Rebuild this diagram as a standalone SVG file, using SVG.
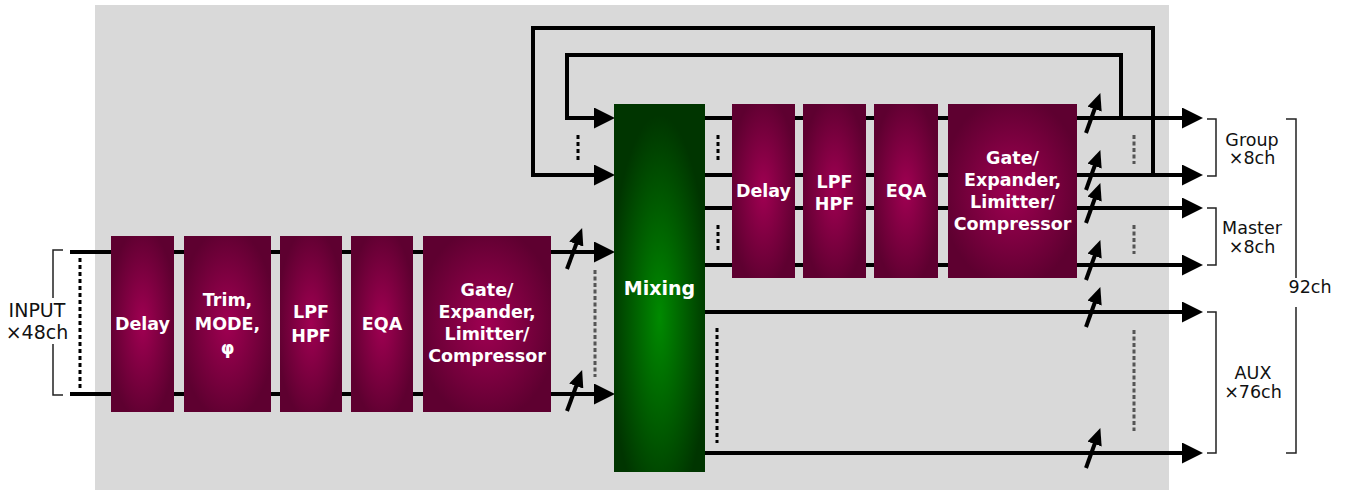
<svg xmlns="http://www.w3.org/2000/svg" width="1346" height="492" viewBox="0 0 1346 492">
<defs>
<radialGradient id="gm" cx="50%" cy="50%" r="55%">
<stop offset="0" stop-color="#a00052"/>
<stop offset="1" stop-color="#5e0030"/>
</radialGradient>
<radialGradient id="gg" cx="50%" cy="58%" r="55%">
<stop offset="0" stop-color="#008a00"/>
<stop offset="1" stop-color="#003500"/>
</radialGradient>
<marker id="ah" markerUnits="userSpaceOnUse" markerWidth="21" markerHeight="21" refX="10" refY="10.5" orient="auto">
<path d="M0,0 L21,10.5 L0,21 z" fill="#000"/>
</marker>
<marker id="sa" markerUnits="userSpaceOnUse" markerWidth="17" markerHeight="15" refX="8" refY="7.5" orient="auto">
<path d="M0,0 L17,7.5 L0,15 z" fill="#000"/>
</marker>
<style>
.ln{stroke:#000;stroke-width:4;fill:none}
.va{stroke:#000;stroke-width:4;fill:none;marker-end:url(#sa)}
.bd{stroke:#000;stroke-width:3;stroke-dasharray:4 3;fill:none}
.gd{stroke:#555;stroke-width:3;stroke-dasharray:4 2.5;fill:none}
.br{stroke:#222;stroke-width:1.5;fill:none}
.mg{fill:url(#gm)}
.bt{font-family:"DejaVu Sans",Verdana,sans-serif;font-weight:bold;font-size:17.5px;fill:#fff;text-anchor:middle}
.lb{font-family:"DejaVu Sans",Verdana,sans-serif;font-size:17.5px;fill:#111;text-anchor:middle}
</style>
</defs>
<rect x="95" y="5" width="1074" height="485" fill="#d9d9d9"/>
<g id="connectors">
<line class="ln" x1="70" y1="252" x2="604" y2="252" marker-end="url(#ah)"/>
<line class="ln" x1="70" y1="394" x2="604" y2="394" marker-end="url(#ah)"/>
<line class="bd" x1="80" y1="258" x2="80" y2="390"/>
<line class="gd" x1="595" y1="270" x2="595" y2="377"/>
<line class="va" x1="567" y1="269" x2="579" y2="236.5"/>
<line class="va" x1="567" y1="411" x2="579" y2="378.5"/>
<polyline class="ln" points="1121,118 1121,55 567,55 567,118 604,118" marker-end="url(#ah)"/>
<polyline class="ln" points="1153,175 1153,28 533,28 533,175 604,175" marker-end="url(#ah)"/>
<line class="bd" x1="578" y1="135" x2="578" y2="163"/>
<line class="ln" x1="705" y1="118" x2="1192" y2="118" marker-end="url(#ah)"/>
<line class="ln" x1="705" y1="175" x2="1192" y2="175" marker-end="url(#ah)"/>
<line class="ln" x1="705" y1="208" x2="1192" y2="208" marker-end="url(#ah)"/>
<line class="ln" x1="705" y1="265" x2="1192" y2="265" marker-end="url(#ah)"/>
<line class="ln" x1="705" y1="312" x2="1192" y2="312" marker-end="url(#ah)"/>
<line class="ln" x1="705" y1="453" x2="1192" y2="453" marker-end="url(#ah)"/>
<line class="bd" x1="718" y1="135" x2="718" y2="163"/>
<line class="bd" x1="718" y1="225" x2="718" y2="253"/>
<line class="bd" x1="717" y1="328" x2="717" y2="443"/>
<line class="gd" x1="1134" y1="135" x2="1134" y2="164"/>
<line class="gd" x1="1134" y1="225" x2="1134" y2="254"/>
<line class="gd" x1="1134" y1="330" x2="1134" y2="431"/>
<line class="va" x1="1086" y1="133" x2="1097.3" y2="101.5"/>
<line class="va" x1="1086" y1="190" x2="1097.3" y2="158.5"/>
<line class="va" x1="1086" y1="223" x2="1097.3" y2="191.5"/>
<line class="va" x1="1086" y1="280" x2="1097.3" y2="248.5"/>
<line class="va" x1="1086" y1="327" x2="1097.3" y2="295.5"/>
<line class="va" x1="1086" y1="468" x2="1097.3" y2="436.5"/>
</g>
<g id="brackets">
<polyline class="br" points="63,250 53,250 53,298"/>
<polyline class="br" points="53,344 53,395 63,395"/>
<polyline class="br" points="1207,119 1216,119 1216,176 1207,176"/>
<polyline class="br" points="1207,208 1216,208 1216,265 1207,265"/>
<polyline class="br" points="1207,312 1216,312 1216,453 1207,453"/>
<polyline class="br" points="1286,119 1296,119 1296,278"/>
<polyline class="br" points="1296,307 1296,453 1286,453"/>
</g>
<g id="labels">
<text class="lb" x="37" y="317" style="font-size:19px">INPUT</text>
<text class="lb" x="37" y="339" style="font-size:19px">×48ch</text>
<text class="lb" x="1252" y="146">Group</text>
<text class="lb" x="1252" y="164">×8ch</text>
<text class="lb" x="1252" y="234">Master</text>
<text class="lb" x="1252" y="253">×8ch</text>
<text class="lb" x="1253" y="379">AUX</text>
<text class="lb" x="1253" y="398">×76ch</text>
<text class="lb" x="1310" y="293">92ch</text>
</g>
<g id="in-delay"><rect class="mg" x="111" y="236" width="63" height="176"/><text class="bt" x="142.5" y="330">Delay</text></g>
<g id="in-trim"><rect class="mg" x="184" y="236" width="87" height="176"/><text class="bt" x="227.5" y="306">Trim,</text><text class="bt" x="227.5" y="330">MODE,</text><text class="bt" x="227.5" y="354">φ</text></g>
<g id="in-filter"><rect class="mg" x="280" y="236" width="62" height="176"/><text class="bt" x="311" y="318">LPF</text><text class="bt" x="311" y="342">HPF</text></g>
<g id="in-eqa"><rect class="mg" x="351" y="236" width="62" height="176"/><text class="bt" x="382" y="330">EQA</text></g>
<g id="in-dyn"><rect class="mg" x="423" y="236" width="128" height="176"/><text class="bt" x="487" y="296">Gate/</text><text class="bt" x="487" y="318">Expander,</text><text class="bt" x="487" y="340">Limitter/</text><text class="bt" x="487" y="362">Compressor</text></g>
<g id="mixing"><rect x="614" y="104" width="91" height="368" fill="url(#gg)"/><text class="bt" x="659.5" y="295" style="font-size:19px">Mixing</text></g>
<g id="out-delay"><rect class="mg" x="732" y="104" width="63" height="174"/><text class="bt" x="763.5" y="197">Delay</text></g>
<g id="out-filter"><rect class="mg" x="803" y="104" width="63" height="174"/><text class="bt" x="834.5" y="188">LPF</text><text class="bt" x="834.5" y="210">HPF</text></g>
<g id="out-eqa"><rect class="mg" x="874" y="104" width="64" height="174"/><text class="bt" x="906" y="197">EQA</text></g>
<g id="out-dyn"><rect class="mg" x="948" y="104" width="129" height="174"/><text class="bt" x="1012.5" y="164">Gate/</text><text class="bt" x="1012.5" y="186">Expander,</text><text class="bt" x="1012.5" y="208">Limitter/</text><text class="bt" x="1012.5" y="230">Compressor</text></g>
</svg>
